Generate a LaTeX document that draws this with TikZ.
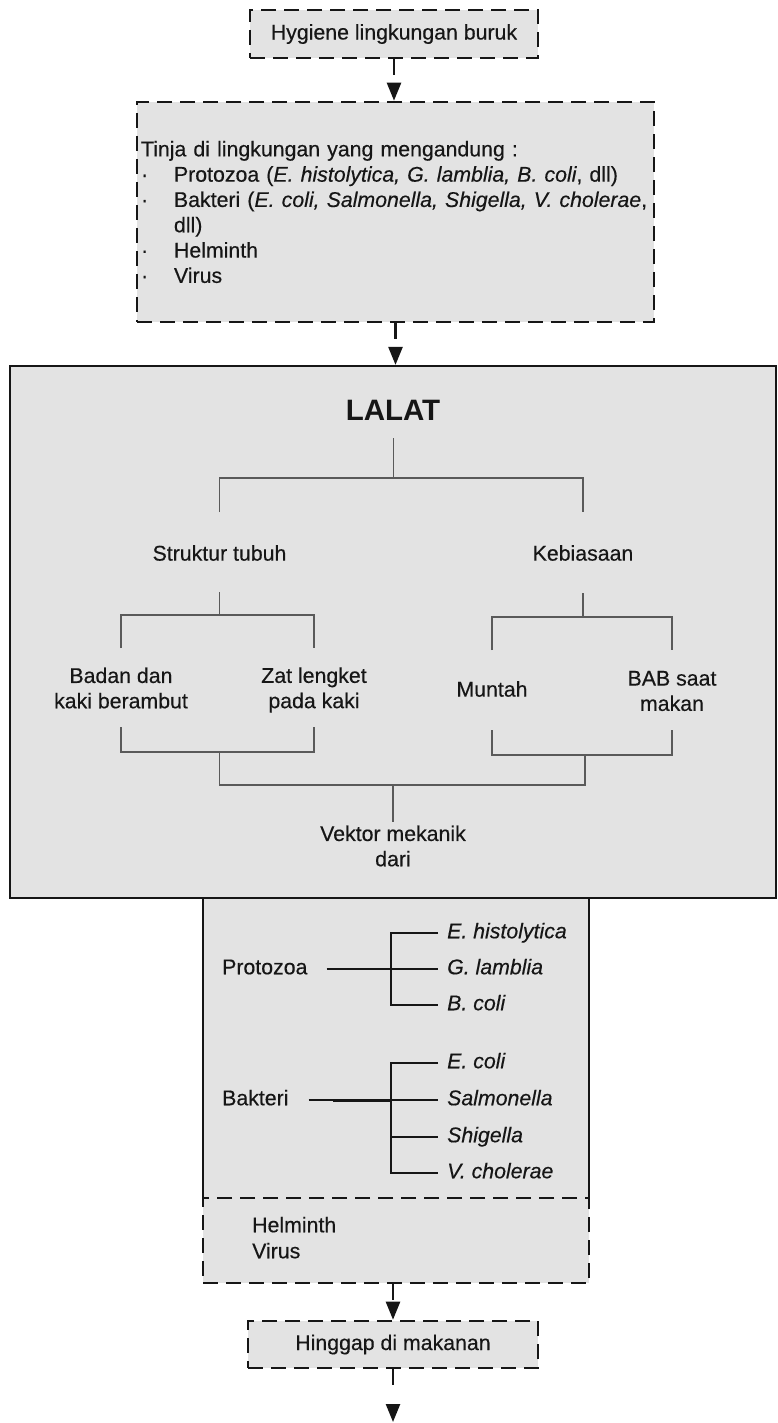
\documentclass[tikz,border=0pt]{standalone}
\usepackage{fontspec}
\setmainfont{Liberation Sans}[UprightFeatures={FakeBold=0.35}, ItalicFeatures={FakeBold=0.35}]
\usetikzlibrary{arrows.meta}
\definecolor{boxgray}{RGB}{227,227,227}
\definecolor{ink}{RGB}{22,22,22}
\definecolor{treegray}{RGB}{90,90,90}
\begin{document}
\begin{tikzpicture}[x=1pt,y=-1pt,
  font=\fontsize{21.3}{25.3}\selectfont, text=ink,
  dbox/.style={draw=ink, fill=boxgray, line width=2.6pt, dash pattern=on 15pt off 8pt},
  sbox/.style={draw=ink, fill=boxgray, line width=2.2pt},
  flow/.style={draw=ink, line width=2.4pt, dash pattern=on 16pt off 30pt, -{Triangle[width=14pt,length=18pt]}},
  tree/.style={draw=treegray, line width=1.1pt},
  br/.style={draw=ink, line width=2.2pt},
  lbl/.style={inner sep=0pt, text height=15pt, text depth=4.5pt},
]
\useasboundingbox (0,0) rectangle (777,1423);

% top box
\node[dbox, minimum width=288pt, minimum height=48pt, inner sep=0pt] (hyg) at (394,34) {Hygiene lingkungan buruk};

% second box
\node[dbox, minimum width=517pt, minimum height=220pt, text width=509pt, inner xsep=4pt, inner ysep=0pt, align=left] (tinja) at (395.5,212)
 {Tinja di lingkungan yang mengandung :\\
  \makebox[33pt][l]{·}Protozoa (\textit{E. histolytica, G. lamblia, B. coli}, dll)\\
  \makebox[33pt][l]{·}Bakteri (\textit{E. coli, Salmonella, Shigella, V. cholerae},\\
  \hspace*{33pt}dll)\\
  \makebox[33pt][l]{·}Helminth\\
  \makebox[33pt][l]{·}Virus};

\draw[flow] (hyg.south) -- (hyg.south |- tinja.north);

% lower box fill (under LALAT box)
\node[fill=boxgray, minimum width=386pt, minimum height=300pt, inner sep=0pt] (lowbox) at (396,1048) {};

% LALAT box
\node[sbox, minimum width=766pt, minimum height=532pt, inner sep=0pt] (lalatbox) at (393,632) {};
\draw[flow] (tinja.south) -- (tinja.south |- lalatbox.north);

\draw[br] (lowbox.north west) -- (lowbox.south west);
\draw[br] (lowbox.north east) -- (lowbox.south east);
\node[dbox, minimum width=386pt, minimum height=85pt, inner sep=0pt] (lowdash) at (396,1240.5) {};

% LALAT tree
\node[font=\bfseries\fontsize{29.5}{34}\selectfont] (lalat) at (393,410) {LALAT};
\node (stru) at (219.5,553) {Struktur tubuh};
\node (kebi) at (583,553) {Kebiasaan};
\node[align=center] (badan) at (121,688) {Badan dan\\kaki berambut};
\node[align=center] (zat) at (314,690) {Zat lengket\\pada kaki};
\node (munt) at (492,689) {Muntah};
\node[align=center] (bab) at (672,691) {BAB saat\\makan};
\node[align=center] (vekt) at (393,846) {Vektor mekanik\\dari};

\coordinate (a0) at (393.5,438); \coordinate (a1) at (393.5,478);
\coordinate (s0) at (219.5,512); \coordinate (k0) at (583,512);
\draw[tree] (a0) -- (a1);
\draw[tree] (s0) -- (s0 |- a1) -- (k0 |- a1) -- (k0);

\coordinate (s1) at (219.5,592); \coordinate (s2) at (219.5,615);
\coordinate (b0) at (121,648); \coordinate (z0) at (314,648);
\draw[tree] (s1) -- (s2);
\draw[tree] (b0) -- (b0 |- s2) -- (z0 |- s2) -- (z0);

\coordinate (k1) at (583,593); \coordinate (k2) at (583,617);
\coordinate (m0) at (492,650); \coordinate (p0) at (672,650);
\draw[tree] (k1) -- (k2);
\draw[tree] (m0) -- (m0 |- k2) -- (p0 |- k2) -- (p0);

\coordinate (b1) at (121,727); \coordinate (z1) at (314,727); \coordinate (l1) at (219.5,752);
\draw[tree] (b1) -- (b1 |- l1) -- (z1 |- l1) -- (z1);
\coordinate (m1) at (492,730); \coordinate (p1) at (672,730); \coordinate (r1) at (585,755);
\draw[tree] (m1) -- (m1 |- r1) -- (p1 |- r1) -- (p1);
\coordinate (l2) at (219.5,785);
\draw[tree] (l1) -- (l2) -- (r1 |- l2) -- (r1);
\coordinate (v0) at (393,785); \coordinate (v1) at (393,822);
\draw[tree] (v0) -- (v1);

% lower tree
\node[lbl, anchor=west] (proto) at (222,969) {Protozoa};
\node[lbl, anchor=west] (ehis) at (447,933) {\textit{E. histolytica}};
\node[lbl, anchor=west] (glam) at (447,969) {\textit{G. lamblia}};
\node[lbl, anchor=west] (bcol) at (447,1005) {\textit{B. coli}};
\coordinate (pv) at (391,969);
\draw[br] ([xshift=19pt]proto.east) -- ([xshift=-9pt]glam.west);
\draw[br] ([xshift=-9pt]ehis.west) -- (pv |- ehis.west) -- (pv |- bcol.west) -- ([xshift=-9pt]bcol.west);

\node[lbl, anchor=west] (bakt) at (222,1100) {Bakteri};
\node[lbl, anchor=west] (ecol) at (447,1063) {\textit{E. coli}};
\node[lbl, anchor=west] (salm) at (447,1100) {\textit{Salmonella}};
\node[lbl, anchor=west] (shig) at (447,1137) {\textit{Shigella}};
\node[lbl, anchor=west] (vcho) at (447,1173) {\textit{V. cholerae}};
\coordinate (bv) at (391,1100);
\draw[br] ([xshift=20pt]bakt.east) -- ([xshift=-9pt]salm.west);
\draw[br, line width=3pt] ([xshift=44pt]bakt.east) -- (bv);
\draw[br] ([xshift=-9pt]ecol.west) -- (bv |- ecol.west) -- (bv |- vcho.west) -- ([xshift=-9pt]vcho.west);
\draw[br] (bv |- shig.west) -- ([xshift=-9pt]shig.west);

\node[lbl, anchor=west] (helm) at (252,1227) {Helminth};
\node[lbl, anchor=west] (vir) at (252,1253) {Virus};

% bottom
\node[dbox, minimum width=290pt, minimum height=47pt, inner sep=0pt] (hing) at (393,1344.5) {Hinggap di makanan};
\draw[flow] (hing.north |- lowdash.south) -- (hing.north);
\coordinate (fin) at (393,1422);
\draw[flow] (hing.south) -- (fin);
\end{tikzpicture}
\end{document}
